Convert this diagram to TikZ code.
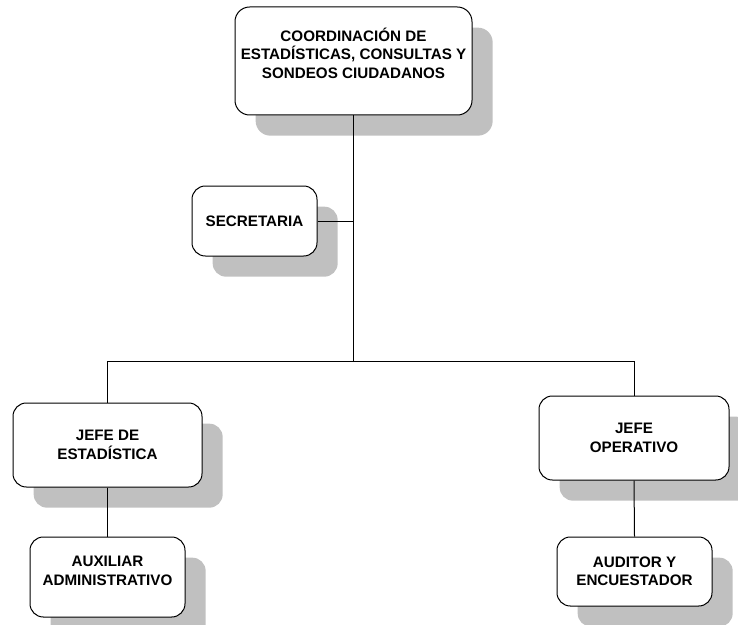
\documentclass[tikz,border=0pt]{standalone}
\usepackage{fontspec}
\setmainfont{Liberation Sans}
\usetikzlibrary{shadows}
\definecolor{shadowgray}{RGB}{192,192,192}
\tikzset{every picture/.style={line width=0.75pt}}
\tikzset{
	unitbox/.style={draw, fill=white, rounded corners=10pt, inner sep=0pt, align=center,
		font=\bfseries\fontsize{11.4}{13.8}\selectfont,
		general shadow={fill=shadowgray, shadow xshift=15.5pt, shadow yshift=-15.5pt}},
	unittext/.style={inner sep=0pt, align=center, font=\bfseries\fontsize{11.4}{13.8}\selectfont},
}

\begin{document}
\begin{tikzpicture}[x=0.75pt,y=-0.75pt]
	\useasboundingbox (0,0) rectangle (738,624);

	% Boxes
	\node[unitbox, minimum width=177.75pt, minimum height=81pt, rounded corners=11pt] (coord) at (353.5,61) {};
	\node[unittext] (coordtxt) at (353.5,53) {COORDINACIÓN DE\\ESTADÍSTICAS, CONSULTAS Y\\SONDEOS CIUDADANOS};
	\node[unitbox, minimum width=93.75pt, minimum height=52.5pt] (secre) at (254.5,221) {SECRETARIA};
	\node[unitbox, minimum width=141.75pt, minimum height=63pt] (jefeest) at (107.5,445) {JEFE DE\\ESTADÍSTICA};
	\node[unitbox, minimum width=116.25pt, minimum height=60pt] (aux) at (107.5,577) {};
	\node[unittext] (auxtxt) at (107.5,571) {AUXILIAR\\ADMINISTRATIVO};
	\node[unitbox, minimum width=142.5pt, minimum height=63pt] (jefeop) at (634,438) {JEFE\\OPERATIVO};
	\node[unitbox, minimum width=116.25pt, minimum height=51.75pt] (aud) at (634.5,571.5) {AUDITOR Y\\ENCUESTADOR};

	% Connectors
	\coordinate (bus) at (353.5,361);
	\draw (coord.south) -- (bus);
	\draw (secre.east) -- (secre.east -| coord.south);
	\draw (jefeest.north) -- (jefeest.north |- bus) -- (jefeop.north |- bus) -- (jefeop.north);
	\draw (jefeest.south) -- (aux.north);
	\draw (jefeop.south) -- (aud.north);

\end{tikzpicture}
\end{document}
